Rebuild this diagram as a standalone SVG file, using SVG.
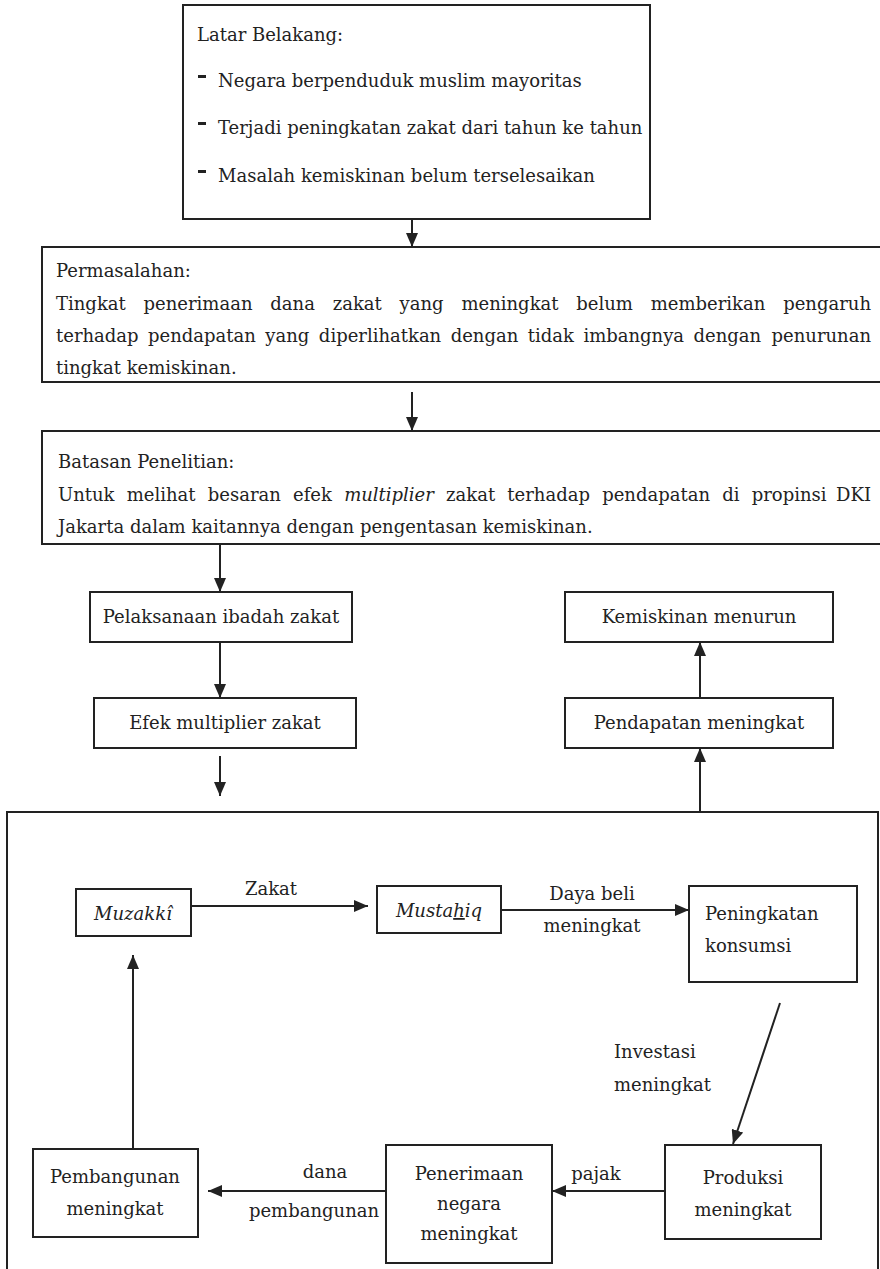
<svg xmlns="http://www.w3.org/2000/svg" width="880" height="1269" viewBox="0 0 880 1269">
<defs>
<style>
text{font-family:"DejaVu Serif","Liberation Serif",serif;font-size:18px;fill:#222}
.box{fill:#fff;stroke:#222;stroke-width:2}
.frame{fill:none;stroke:#222;stroke-width:2}
.c{text-anchor:middle}
.e{text-anchor:end}
.it{font-style:italic}
.ln{stroke:#222;stroke-width:2;fill:none}
.arr{marker-end:url(#ah)}
</style>
<marker id="ah" markerUnits="userSpaceOnUse" markerWidth="14" markerHeight="12" refX="14" refY="6" orient="auto">
<path d="M0,0 L14,6 L0,12 Z" fill="#222"/>
</marker>
</defs>
<rect width="880" height="1269" fill="#fff"/>

<g id="siklus">
<rect class="frame" x="7" y="812" width="871" height="470"/>
</g>

<g id="connectors">
<line class="ln arr" x1="412" y1="219" x2="412" y2="247"/>
<line class="ln arr" x1="412" y1="392" x2="412" y2="431"/>
<line class="ln arr" x1="220" y1="544" x2="220" y2="592"/>
<line class="ln arr" x1="220" y1="642" x2="220" y2="698"/>
<line class="ln arr" x1="220" y1="756" x2="220" y2="796"/>
<line class="ln arr" x1="700" y1="698" x2="700" y2="642"/>
<line class="ln arr" x1="700" y1="812" x2="700" y2="748"/>
<line class="ln arr" x1="191" y1="906" x2="368" y2="906"/>
<line class="ln arr" x1="501" y1="910" x2="689" y2="910"/>
<line class="ln arr" x1="780" y1="1003" x2="733" y2="1144"/>
<line class="ln arr" x1="665" y1="1191" x2="552" y2="1191"/>
<line class="ln arr" x1="386" y1="1191" x2="208" y2="1191"/>
<line class="ln arr" x1="133" y1="1149" x2="133" y2="955"/>
</g>

<g id="latar">
<rect class="box" x="183" y="5" width="467" height="214"/>
<text x="197" y="41">Latar Belakang:</text>
<rect x="198" y="75" width="8" height="3" fill="#222"/>
<text x="218" y="87">Negara berpenduduk muslim mayoritas</text>
<rect x="198" y="122" width="8" height="3" fill="#222"/>
<text x="218" y="134">Terjadi peningkatan zakat dari tahun ke tahun</text>
<rect x="198" y="170" width="8" height="3" fill="#222"/>
<text x="218" y="182">Masalah kemiskinan belum terselesaikan</text>
</g>

<g id="permasalahan">
<rect class="box" x="42" y="247" width="840" height="135"/>
<text x="56" y="277">Permasalahan:</text>
<text x="56" y="310" word-spacing="12.1">Tingkat penerimaan dana zakat yang meningkat belum memberikan</text>
<text class="e" x="871" y="310">pengaruh</text>
<text x="56" y="342" word-spacing="3.75">terhadap pendapatan yang diperlihatkan dengan tidak imbangnya dengan</text>
<text class="e" x="871" y="342">penurunan</text>
<text x="56" y="374">tingkat kemiskinan.</text>
</g>

<g id="batasan">
<rect class="box" x="42" y="431" width="840" height="113"/>
<text x="58" y="468">Batasan Penelitian:</text>
<text x="58" y="501" word-spacing="6.5">Untuk melihat besaran efek <tspan class="it">multiplier</tspan> zakat terhadap pendapatan di propinsi</text>
<text class="e" x="871" y="501">DKI</text>
<text x="58" y="533">Jakarta dalam kaitannya dengan pengentasan kemiskinan.</text>
</g>

<g id="pelaksanaan">
<rect class="box" x="90" y="592" width="262" height="50"/>
<text class="c" x="221" y="623">Pelaksanaan ibadah zakat</text>
</g>
<g id="efek">
<rect class="box" x="94" y="698" width="262" height="50"/>
<text class="c" x="225" y="729">Efek multiplier zakat</text>
</g>
<g id="kemiskinan">
<rect class="box" x="565" y="592" width="268" height="50"/>
<text class="c" x="699" y="623">Kemiskinan menurun</text>
</g>
<g id="pendapatan">
<rect class="box" x="565" y="698" width="268" height="50"/>
<text class="c" x="699" y="729">Pendapatan meningkat</text>
</g>

<g id="muzakki">
<rect class="box" x="76" y="889" width="115" height="47"/>
<text class="c it" x="133" y="920">Muzakkî</text>
</g>
<text class="c" x="271" y="895">Zakat</text>
<g id="mustahiq">
<rect class="box" x="377" y="886" width="124" height="47"/>
<text class="c it" x="439" y="917">Musta<tspan text-decoration="underline">h</tspan>iq</text>
</g>
<text class="c" x="592" y="900">Daya beli</text>
<text class="c" x="592" y="932">meningkat</text>
<g id="konsumsi">
<rect class="box" x="689" y="886" width="168" height="96"/>
<text x="705" y="920">Peningkatan</text>
<text x="705" y="952">konsumsi</text>
</g>
<text x="614" y="1058">Investasi</text>
<text x="614" y="1091">meningkat</text>
<g id="produksi">
<rect class="box" x="665" y="1145" width="156" height="94"/>
<text class="c" x="743" y="1184">Produksi</text>
<text class="c" x="743" y="1216">meningkat</text>
</g>
<text class="c" x="596" y="1180">pajak</text>
<g id="penerimaan">
<rect class="box" x="386" y="1145" width="166" height="118"/>
<text class="c" x="469" y="1180">Penerimaan</text>
<text class="c" x="469" y="1210">negara</text>
<text class="c" x="469" y="1240">meningkat</text>
</g>
<text class="c" x="325" y="1178">dana</text>
<text class="c" x="314" y="1217">pembangunan</text>
<g id="pembangunan">
<rect class="box" x="33" y="1149" width="165" height="88"/>
<text class="c" x="115" y="1183">Pembangunan</text>
<text class="c" x="115" y="1215">meningkat</text>
</g>
</svg>
